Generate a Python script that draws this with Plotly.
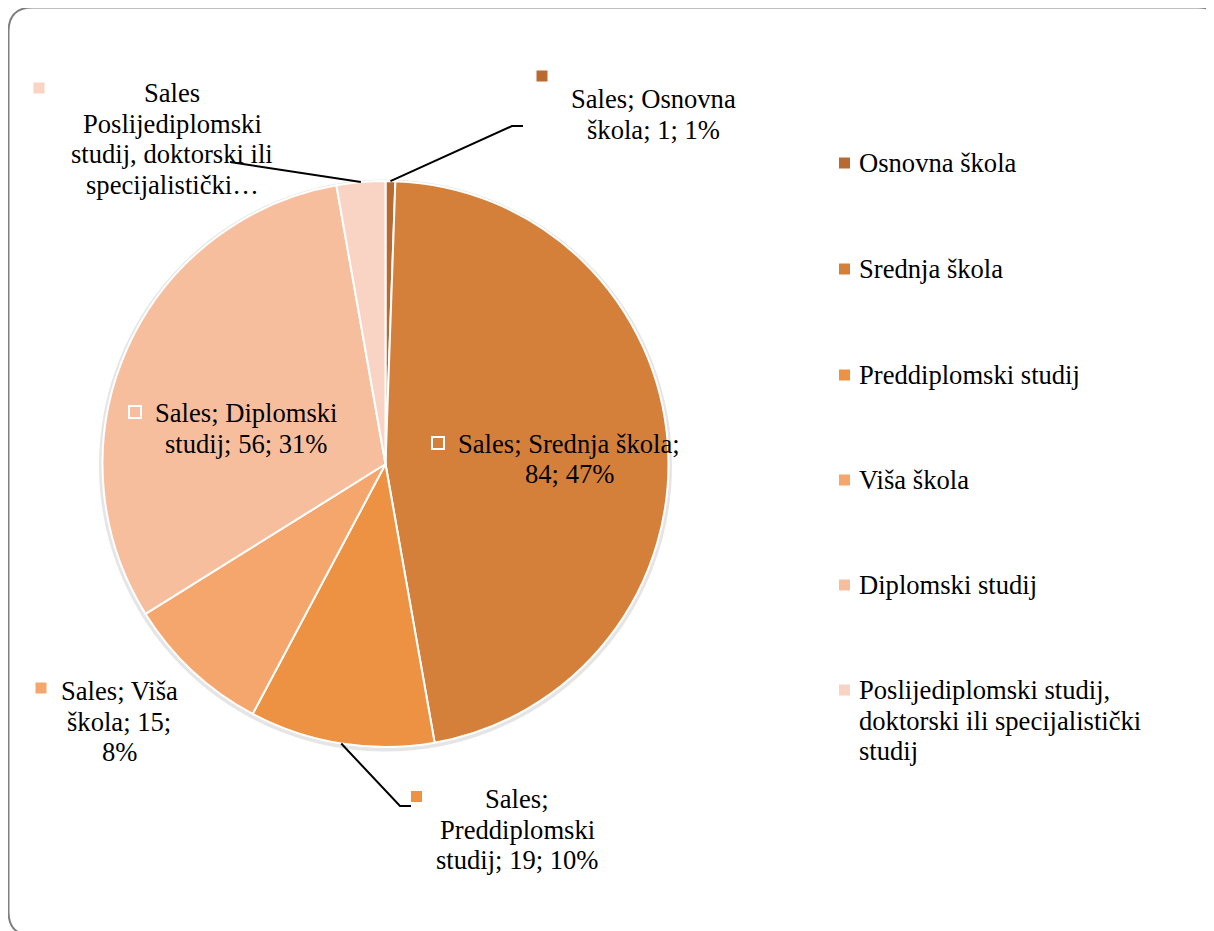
import math
import plotly.graph_objects as go

# ---- data ----
categories = ["Osnovna škola", "Srednja škola", "Preddiplomski studij",
              "Viša škola", "Diplomski studij",
              "Poslijediplomski studij, doktorski ili specijalistički studij"]
values = [1, 84, 19, 15, 56, 5]
percents = ["1%", "47%", "10%", "8%", "31%", "3%"]
series_name = "Sales"

# ---- styles / layout ----
W, H = 1214, 931
OFF = 8  # page body margin offset
colors = ["#B86A30", "#D5803A", "#EC9242", "#F5A66C", "#F7BE9E", "#F9D4C4"]
FONT = "Liberation Serif"
FS = 26.6
CX, CY, R = 385.5, 464.0, 283.0


def px(x):
    return (x - OFF) / W


def py(y):
    return 1 - (y - OFF) / H


fig = go.Figure()
fig.add_trace(go.Pie(
    labels=categories, values=values, sort=False, direction="clockwise",
    rotation=0, textinfo="none", hoverinfo="label+value+percent",
    marker=dict(colors=colors, line=dict(color="white", width=2)),
    domain=dict(x=[px(CX - R), px(CX + R)], y=[py(CY + R), py(CY - R)]),
    showlegend=False,
))

annotations = []
shapes = []

# outer rounded border
L_, T_, R_, B_, rc = 8.5, 7.5, 1222.0, 935.5, 24.0
path = (f"M {px(L_ + rc)},{py(T_)} L {px(R_ - rc)},{py(T_)} "
        f"Q {px(R_)},{py(T_)} {px(R_)},{py(T_ + rc)} "
        f"L {px(R_)},{py(B_ - rc)} Q {px(R_)},{py(B_)} {px(R_ - rc)},{py(B_)} "
        f"L {px(L_ + rc)},{py(B_)} Q {px(L_)},{py(B_)} {px(L_)},{py(B_ - rc)} "
        f"L {px(L_)},{py(T_ + rc)} Q {px(L_)},{py(T_)} {px(L_ + rc)},{py(T_)} Z")
shapes.append(dict(type="path", xref="paper", yref="paper", path=path,
                   line=dict(color="#808080", width=2)))

# faint shadow around pie
shapes.append(dict(type="circle", xref="paper", yref="paper", layer="below",
                   x0=px(CX - R - 1.5), x1=px(CX + R + 1.5),
                   y0=py(CY + R + 2.5), y1=py(CY - R + 0.5),
                   line=dict(color="rgba(0,0,0,0.10)", width=4)))


def text_line(s, x, y, anchor="center"):
    annotations.append(dict(x=px(x), y=py(y), xref="paper", yref="paper",
                            text=s, showarrow=False, xanchor=anchor,
                            yanchor="middle",
                            font=dict(family=FONT, size=FS, color="#000000")))


def square(x, y, color, size=11, outline=False):
    h = size / 2
    shapes.append(dict(type="rect", xref="paper", yref="paper",
                       x0=px(x - h), x1=px(x + h), y0=py(y + h), y1=py(y - h),
                       fillcolor=(color if not outline else "rgba(0,0,0,0)"),
                       line=dict(color=("white" if outline else color),
                                 width=(2 if outline else 0))))


# data labels (text from the data)
totals = sum(values)
cum = 0
mid_pts = []
for v in values:
    a = (cum + v / 2) / totals * 2 * math.pi
    mid_pts.append((CX + R * math.sin(a), CY - R * math.cos(a)))
    cum += v

label_lines = [
    [f"{series_name}; Osnovna", f"škola; {values[0]}; {percents[0]}"],
    [f"{series_name}; Srednja škola;", f"{values[1]}; {percents[1]}"],
    [f"{series_name};", "Preddiplomski", f"studij; {values[2]}; {percents[2]}"],
    [f"{series_name}; Viša", f"škola; {values[3]};", f"{percents[3]}"],
    [f"{series_name}; Diplomski", f"studij; {values[4]}; {percents[4]}"],
    [f"{series_name}", "Poslijediplomski", "studij, doktorski ili", "specijalistički…"],
]
label_pos = [  # (center x, first line y, square x, square y, outline)
    (653, 99, 542, 76, False),
    (569, 444, 438, 443, True),
    (517, 799, 416.5, 796.5, False),
    (119, 691, 41, 688, False),
    (246, 413, 135, 412, True),
    (172, 93, 39, 88, False),
]
LS = 30.5
for i, lines in enumerate(label_lines):
    cx, y0, sx, sy, ol = label_pos[i]
    for j, s in enumerate(lines):
        text_line(s, cx, y0 + j * LS)
    square(sx, sy, colors[i], size=(12 if ol else 11), outline=ol)

# leader lines (start at slice mid-angle on the pie edge)
leaders = {0: [(512, 126), (523, 126)], 2: [(400, 806), (411, 806)],
           5: [(230, 162)]}
for i, pts in leaders.items():
    allp = [mid_pts[i]] + pts
    d = "M " + " L ".join(f"{px(x)},{py(y)}" for x, y in allp)
    shapes.append(dict(type="path", xref="paper", yref="paper", path=d,
                       line=dict(color="#000000", width=2)))

# legend
leg_y = [163, 269, 375, 480, 585, 690]
for i, cat in enumerate(categories):
    square(844.5, leg_y[i], colors[i], size=11)
    if i == 5:
        parts = ["Poslijediplomski studij,", "doktorski ili specijalistički", "studij"]
    else:
        parts = [cat]
    for j, s in enumerate(parts):
        text_line(s, 856.5, leg_y[i] + j * LS, anchor="left")

fig.update_layout(
    width=W, height=H, margin=dict(l=0, r=0, t=0, b=0),
    paper_bgcolor="white", plot_bgcolor="white",
    annotations=annotations, shapes=shapes, showlegend=False,
)
fig.write_html("out.html")
